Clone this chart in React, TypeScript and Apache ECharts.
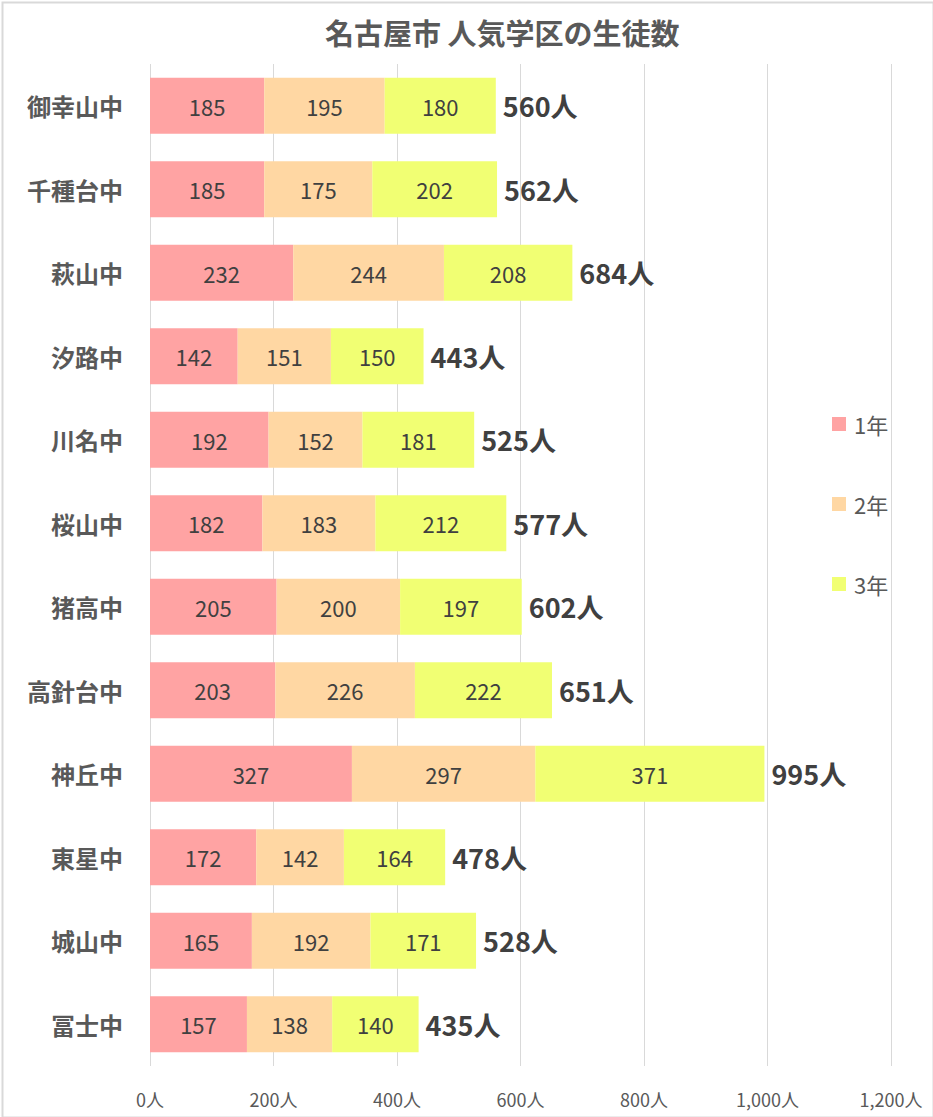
import React, { useEffect, useRef } from "react";
import * as echarts from "echarts";

const schools = ["御幸山中", "千種台中", "萩山中", "汐路中", "川名中", "桜山中", "猪高中", "高針台中", "神丘中", "東星中", "城山中", "冨士中"];
const grade1 = [185, 185, 232, 142, 192, 182, 205, 203, 327, 172, 165, 157];
const grade2 = [195, 175, 244, 151, 152, 183, 200, 226, 297, 142, 192, 138];
const grade3 = [180, 202, 208, 150, 181, 212, 197, 222, 371, 164, 171, 140];
const seriesNames = ["1年", "2年", "3年"];
const colors = ["#FFA3A3", "#FFD7A3", "#F1FF73"];

const FONT = "'Noto Sans CJK JP', 'Noto Sans', sans-serif";

export default function App() {
  const ref = useRef<HTMLDivElement>(null);
  useEffect(() => {
    document.body.style.margin = "0";
    if (!ref.current) return;
    const chart = echarts.init(ref.current, null, { renderer: "svg" });
    const totals = grade1.map((v, i) => v + grade2[i] + grade3[i]);
    const inside = {
      show: true,
      position: "inside",
      color: "#404040",
      fontSize: 22,
      fontFamily: FONT,
    };
    const data = [grade1, grade2, grade3];
    chart.setOption({
      animation: false,
      textStyle: { fontFamily: FONT },
      title: {
        text: "名古屋市 人気学区の生徒数",
        left: 320,
        top: 12,
        textStyle: { fontSize: 29, fontWeight: "bold", color: "#595959", fontFamily: FONT },
      },
      graphic: [
        {
          type: "rect",
          left: 0,
          top: 0,
          shape: { x: 1, y: 1, width: 931, height: 1115 },
          style: { fill: "none", stroke: "#d9d9d9", lineWidth: 2 },
          silent: true,
        },
      ],
      legend: {
        orient: "vertical",
        left: 827,
        top: 408,
        itemWidth: 14,
        itemHeight: 14,
        itemGap: 58,
        data: seriesNames,
        icon: "rect",
        textStyle: { fontSize: 22, color: "#595959", fontFamily: FONT, padding: [0, 0, 0, 3] },
      },
      grid: { left: 150, right: 42, top: 64, bottom: 51, containLabel: false },
      xAxis: {
        type: "value",
        min: 0,
        max: 1200,
        interval: 200,
        axisLine: { show: false },
        axisTick: { show: false },
        splitLine: { lineStyle: { color: "#d9d9d9", width: 1 } },
        axisLabel: {
          margin: 24,
          fontSize: 18,
          color: "#595959",
          fontFamily: FONT,
          formatter: (v: number) => v.toLocaleString("en-US") + "人",
        },
      },
      yAxis: {
        type: "category",
        inverse: true,
        data: schools,
        axisLine: { show: false },
        axisTick: { show: false },
        axisLabel: {
          margin: 27,
          fontSize: 24,
          fontWeight: "bold",
          color: "#595959",
          fontFamily: FONT,
        },
      },
      series: [
        ...seriesNames.map((name, k) => ({
          name,
          type: "bar",
          stack: "total",
          barCategoryGap: "33%",
          data: data[k],
          itemStyle: { color: colors[k] },
          label: inside,
        })),
        {
          name: "合計",
          type: "bar",
          stack: "total",
          data: totals.map(() => 0),
          itemStyle: { color: "transparent" },
          label: {
            show: true,
            position: "right",
            distance: 7,
            fontSize: 27,
            fontWeight: "bold",
            color: "#404040",
            fontFamily: FONT,
            formatter: (p: any) => totals[p.dataIndex] + "人",
          },
        },
      ],
    });
    return () => chart.dispose();
  }, []);
  return <div ref={ref} style={{ width: 933, height: 1117 }} />;
}
